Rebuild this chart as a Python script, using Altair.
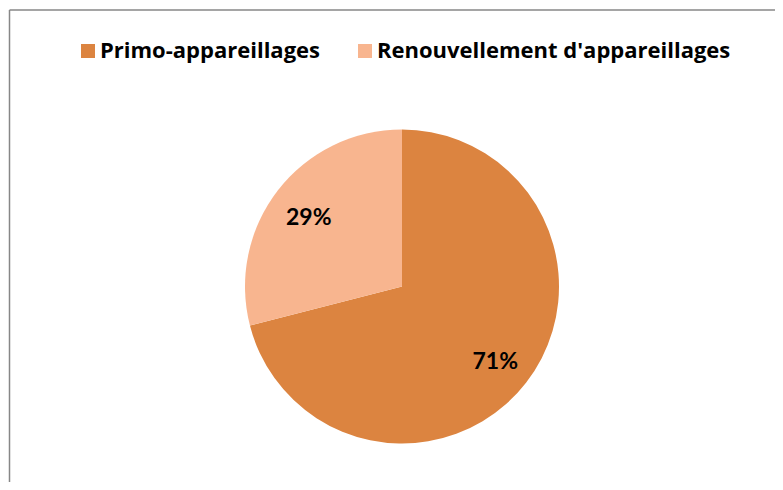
import altair as alt
import pandas as pd

categories = ["Primo-appareillages", "Renouvellement d'appareillages"]
values = [71, 29]
labels = ["71%", "29%"]
order = [1, 2]
colors = ["#DC8440", "#F8B58F"]

df = pd.DataFrame({"cat": categories, "value": values, "label": labels, "ord": order})

CX, CY = 394, 278.5

base = alt.Chart(df).encode(
    theta=alt.Theta("value:Q", stack=True),
    order=alt.Order("ord:Q"),
    x=alt.value(CX),
    y=alt.value(CY),
)

pie = base.mark_arc(radius=157, stroke=None).encode(
    color=alt.Color(
        "cat:N",
        scale=alt.Scale(domain=categories, range=colors),
        sort=categories,
        legend=alt.Legend(
            title=None,
            orient="none",
            legendX=69,
            legendY=32,
            direction="horizontal",
            symbolType="square",
            symbolSize=196,
            symbolStrokeWidth=0,
            symbolOpacity=1,
            labelFont="Open Sans",
            labelFontWeight="bold",
            labelFontSize=22,
            labelColor="#000000",
            labelOffset=1,
            labelLimit=500,
            columnPadding=33,
            padding=0,
        ),
    )
)

text = base.mark_text(
    radius=118, font="Lato", fontWeight="bold", fontSize=23, color="#000000", dy=3.5
).encode(text="label:N")

frame_df = pd.DataFrame({"x": [1.5]})
top_line = alt.Chart(frame_df).mark_rule(color="#878787", strokeWidth=1.5).encode(
    x=alt.value(1.5), x2=alt.value(775), y=alt.value(2)
)
left_line = alt.Chart(frame_df).mark_rule(color="#878787", strokeWidth=1.5).encode(
    x=alt.value(1.5), y=alt.value(2), y2=alt.value(480)
)

chart = (
    alt.layer(top_line, left_line, pie, text)
    .properties(width=767, height=474, padding=0, autosize=alt.AutoSizeParams(type="none"))
    .configure_view(strokeWidth=0)
)

chart.save("out.html", embed_options={"renderer": "svg", "actions": False})
